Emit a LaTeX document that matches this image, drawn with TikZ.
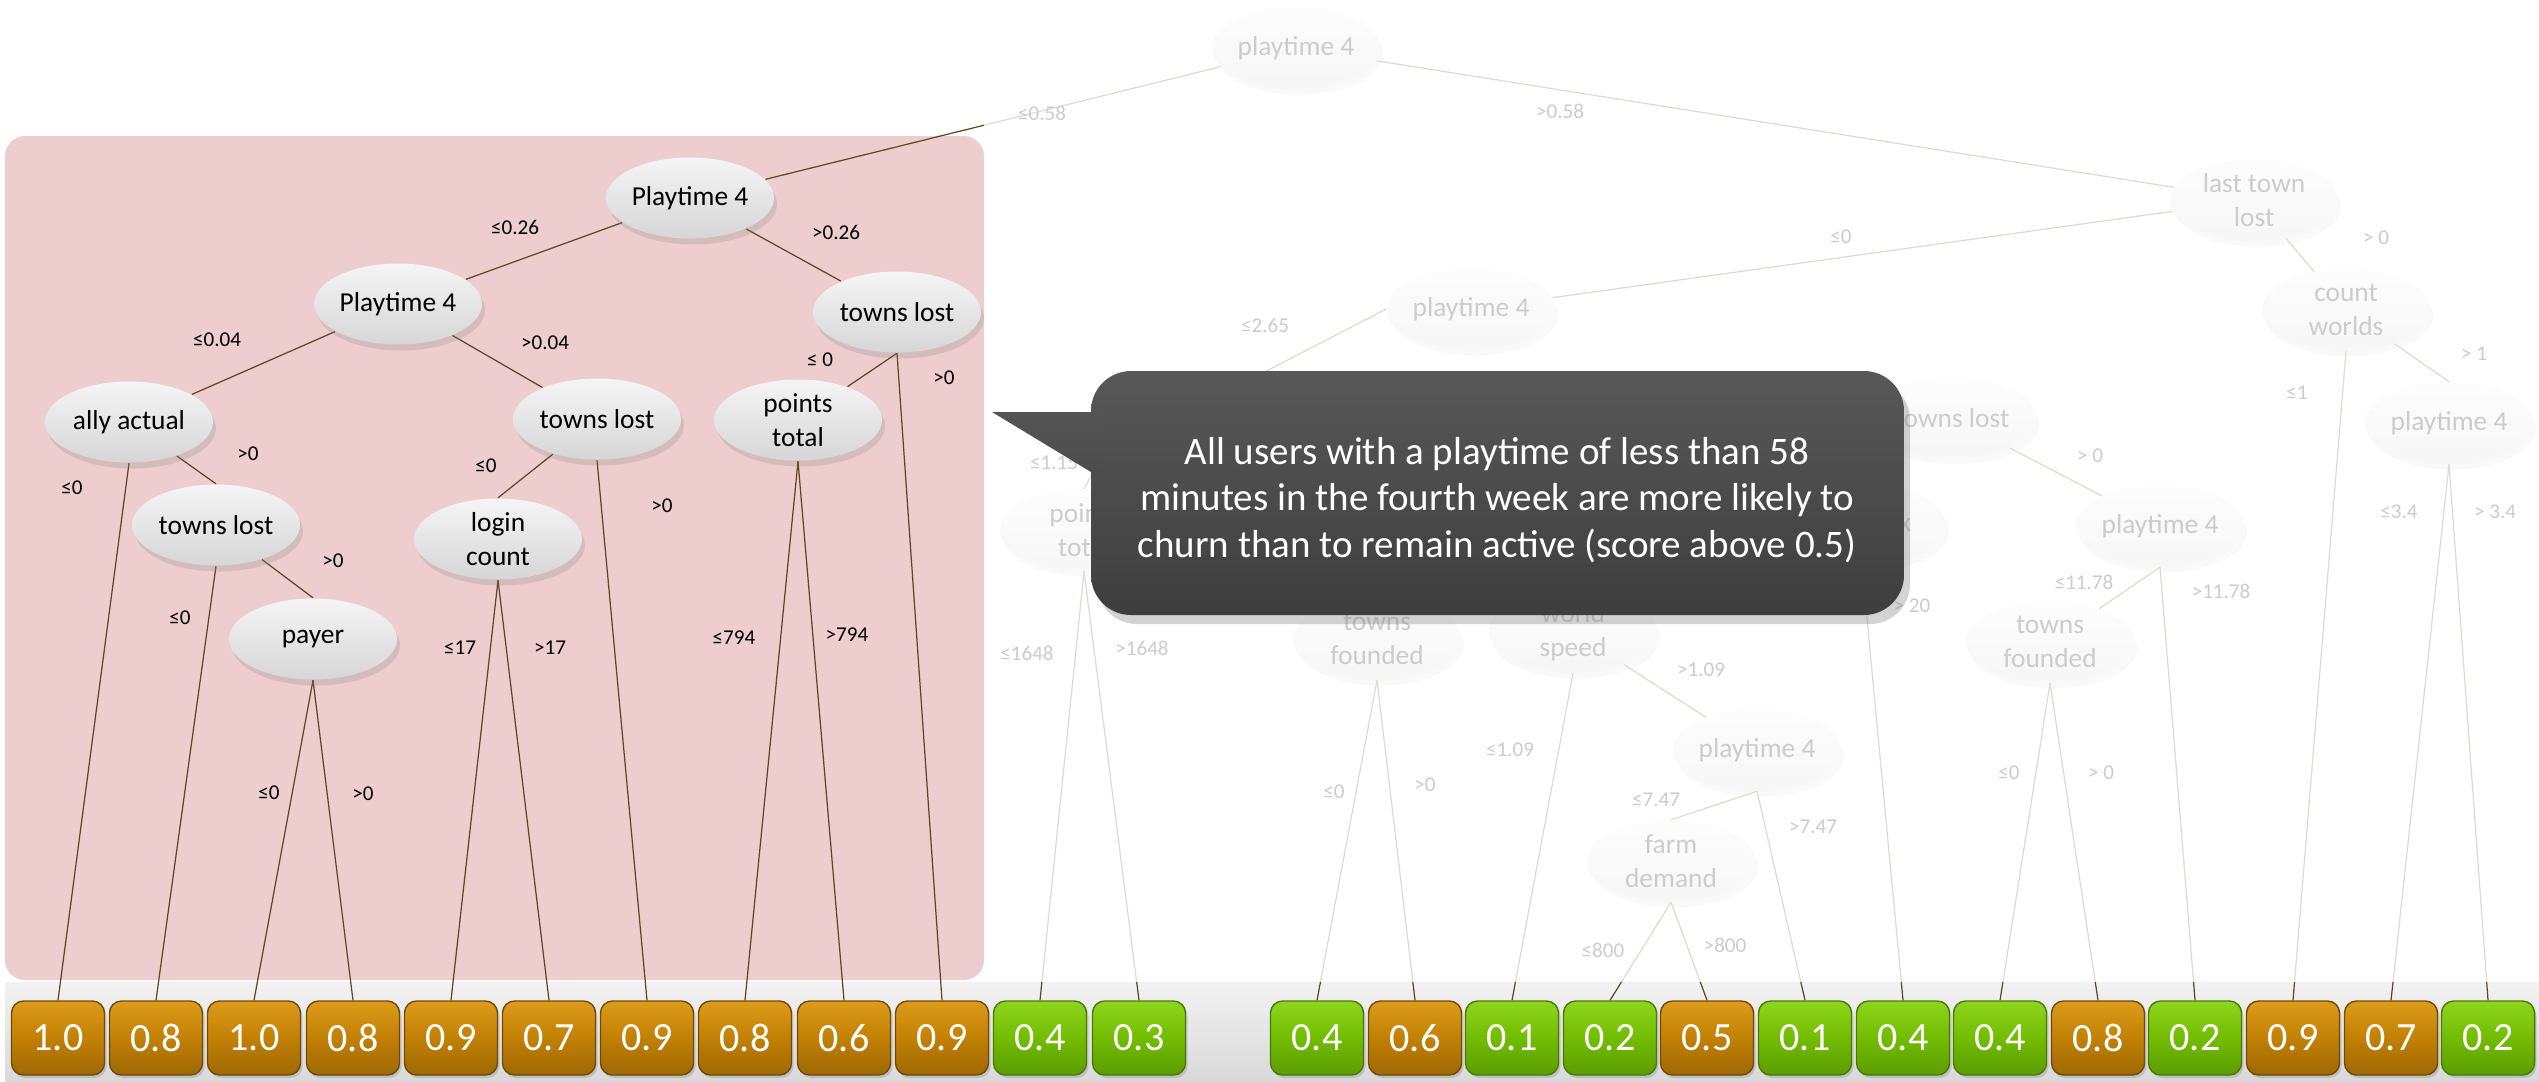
\documentclass[tikz,border=0pt]{standalone}
\usepackage{fontspec}
\setmainfont{Carlito}
\usetikzlibrary{shapes.geometric,shadows,backgrounds}

\definecolor{lnkcol}{RGB}{92,74,30}
\definecolor{pinkbg}{RGB}{237,205,205}
\definecolor{hitop}{RGB}{222,156,28}
\definecolor{himid}{RGB}{194,128,4}
\definecolor{hibot}{RGB}{158,104,4}
\definecolor{hiline}{RGB}{112,74,8}
\definecolor{lotop}{RGB}{142,214,30}
\definecolor{lomid}{RGB}{114,188,2}
\definecolor{lobot}{RGB}{92,156,2}
\definecolor{loline}{RGB}{74,122,6}
\definecolor{notetop}{RGB}{88,88,88}
\definecolor{notebot}{RGB}{62,62,62}
\definecolor{tiptop}{RGB}{84,84,84}
\definecolor{tipbot}{RGB}{77,77,77}

\begin{document}
\begin{tikzpicture}[
  x=0.1mm, y=-0.1mm,
  splt/.style={ellipse, minimum width=16.8mm, minimum height=8.1mm, inner sep=0pt,
    top color=black!4, bottom color=black!16,
    drop shadow={shadow xshift=0.3mm, shadow yshift=-0.6mm, opacity=0.22},
    font=\fontsize{7.8}{9.6}\selectfont, align=center},
  cond/.style={font=\fontsize{6}{7}\selectfont, inner sep=0pt},
  lnk/.style={draw=lnkcol, line width=0.35pt},
  lf/.style={rectangle, rounded corners=1.2mm, minimum width=9.3mm, minimum height=7.4mm,
    inner sep=0pt, text=white, font=\fontsize{11.4}{13}\selectfont,
    drop shadow={shadow xshift=0.2mm, shadow yshift=-0.3mm, opacity=0.3}},
  lfhi/.style={lf, top color=hitop, bottom color=hibot, middle color=himid, draw=hiline},
  lflo/.style={lf, top color=lotop, bottom color=lobot, middle color=lomid, draw=loline},
  bubble/.style={top color=notetop, bottom color=notebot,
    drop shadow={shadow xshift=0.6mm, shadow yshift=-0.9mm, opacity=0.35}},
  notetext/.style={text=white, align=center, font=\fontsize{11.1}{13.2}\selectfont},
]
\useasboundingbox (0,0) rectangle (2539,1081);

\begin{scope}[on background layer]
	\shade [top color=black!5, bottom color=black!15] (5,982) rectangle (2539,1081);
	\fill [pinkbg, rounded corners=2mm] (5,136) rectangle (984,980);
\end{scope}

% highlighted branch
\node [splt] (pA) at (690,198) {Playtime 4};
\node [splt] (pB) at (398,304) {Playtime 4};
\node [splt] (tlA) at (897,312) {towns lost};
\node [splt] (ally) at (129,422) {ally actual};
\node [splt] (tlB) at (597,419) {towns lost};
\node [splt] (pts) at (798,420) {points\\total};
\node [splt] (tlC) at (216,525) {towns lost};
\node [splt] (login) at (498,539) {login\\count};
\node [splt] (payer) at (313,639) {payer};

\node [cond] (c1) at (515,227) {≤0.26};
\node [cond] (c2) at (836,232) {>0.26};
\node [cond] (c3) at (217,340) {≤0.04};
\node [cond] (c4) at (545,343) {>0.04};
\node [cond] (c5) at (72,488) {≤0};
\node [cond] (c6) at (248,454) {>0};
\node [cond] (c7) at (180,618) {≤0};
\node [cond] (c8) at (333,561) {>0};
\node [cond] (c9) at (269,793) {≤0};
\node [cond] (c10) at (363,794) {>0};
\node [cond] (c11) at (486,466) {≤0};
\node [cond] (c12) at (662,506) {>0};
\node [cond] (c13) at (460,648) {≤17};
\node [cond] (c14) at (550,648) {>17};
\node [cond] (c15) at (820,360) {≤ 0};
\node [cond] (c16) at (944,378) {>0};
\node [cond] (c17) at (734,638) {≤794};
\node [cond] (c18) at (847,635) {>794};

% rest of the tree
\node [splt] (root) at (1296,48) {playtime 4};
\node [splt] (ltl) at (2254,200) {last town\\lost};
\node [splt] (cw) at (2346,310) {count\\worlds};
\node [splt] (pr) at (2449,423) {playtime 4};
\node [splt] (plE) at (1471,309) {playtime 4};
\node [splt] (ptsF) at (1084,530) {points\\total};
\node [splt] (tlF) at (1952,418) {towns lost};
\node [splt] (xF) at (1862,525) {};
\node [splt] (pm) at (2160,526) {playtime 4};
\node [splt] (tfr) at (2050,642) {towns\\founded};
\node [splt] (tfm) at (1377,639) {towns\\founded};
\node [splt] (ws) at (1573,632) {world\\speed};
\node [splt] (pws) at (1757,750) {playtime 4};
\node [splt] (fd) at (1671,861) {farm\\demand};
\node [font=\fontsize{7.8}{9.6}\selectfont, inner sep=0pt] (xT) at (1905,525) {x};
\coordinate (hid) at (1102,456);

\node [cond] (d1) at (1042,113) {≤0.58};
\node [cond] (d2) at (1560,111) {>0.58};
\node [cond] (d3) at (1841,237) {≤0};
\node [cond] (d4) at (2376,238) {> 0};
\node [cond] (d5) at (1265,325) {≤2.65};
\node [cond] (d6) at (1054,463) {≤1.15};
\node [cond] (d7) at (1027,653) {≤1648};
\node [cond] (d8) at (1142,648) {>1648};
\node [cond] (d9) at (1334,792) {≤0};
\node [cond] (d10) at (1425,785) {>0};
\node [cond] (d11) at (1510,750) {≤1.09};
\node [cond] (d12) at (1701,670) {>1.09};
\node [cond] (d13) at (1656,800) {≤7.47};
\node [cond] (d14) at (1813,827) {>7.47};
\node [cond] (d15) at (1603,950) {≤800};
\node [cond] (d16) at (1725,945) {>800};
\node [cond] (d17) at (1912,606) {> 20};
\node [cond] (d18) at (2090,456) {> 0};
\node [cond] (d19) at (2084,582) {≤11.78};
\node [cond] (d20) at (2221,591) {>11.78};
\node [cond] (d21) at (2009,773) {≤0};
\node [cond] (d22) at (2101,773) {> 0};
\node [cond] (d23) at (2297,393) {≤1};
\node [cond] (d24) at (2474,354) {> 1};
\node [cond] (d25) at (2399,512) {≤3.4};
\node [cond] (d26) at (2495,512) {> 3.4};

\fill [white, opacity=0.8] (984,0) rectangle (2539,982);

% leaves
\node [lfhi] (lf0) at (58,1038) {1.0};
\node [lfhi] (lf1) at (156,1038) {0.8};
\node [lfhi] (lf2) at (254,1038) {1.0};
\node [lfhi] (lf3) at (353,1038) {0.8};
\node [lfhi] (lf4) at (451,1038) {0.9};
\node [lfhi] (lf5) at (549,1038) {0.7};
\node [lfhi] (lf6) at (647,1038) {0.9};
\node [lfhi] (lf7) at (745,1038) {0.8};
\node [lfhi] (lf8) at (844,1038) {0.6};
\node [lfhi] (lf9) at (942,1038) {0.9};
\node [lflo] (lf10) at (1040,1038) {0.4};
\node [lflo] (lf11) at (1139,1038) {0.3};
\node [lflo] (lf12) at (1317,1038) {0.4};
\node [lfhi] (lf13) at (1415,1038) {0.6};
\node [lflo] (lf14) at (1512,1038) {0.1};
\node [lflo] (lf15) at (1610,1038) {0.2};
\node [lfhi] (lf16) at (1707,1038) {0.5};
\node [lflo] (lf17) at (1805,1038) {0.1};
\node [lflo] (lf18) at (1903,1038) {0.4};
\node [lflo] (lf19) at (2000,1038) {0.4};
\node [lfhi] (lf20) at (2098,1038) {0.8};
\node [lflo] (lf21) at (2195,1038) {0.2};
\node [lfhi] (lf22) at (2293,1038) {0.9};
\node [lfhi] (lf23) at (2391,1038) {0.7};
\node [lflo] (lf24) at (2488,1038) {0.2};

\begin{scope}[on background layer]
	\draw [lnk] (root) -- (pA);
	\draw [lnk] (root) -- (ltl);
	\draw [lnk] (pA) -- (pB);
	\draw [lnk] (pA) -- (tlA);
	\draw [lnk] (pB) -- (ally);
	\draw [lnk] (pB) -- (tlB);
	\draw [lnk] (ally) -- (tlC.north);
	\draw [lnk] (tlC) -- (payer.north);
	\draw [lnk] (tlB) -- (login.north);
	\draw [lnk] (tlA.south) -- (pts);
	\draw [lnk] (ally.south) -- (lf0.north);
	\draw [lnk] (tlC.south) -- (lf1.north);
	\draw [lnk] (payer.south) -- (lf2.north);
	\draw [lnk] (payer.south) -- (lf3.north);
	\draw [lnk] (login.south) -- (lf4.north);
	\draw [lnk] (login.south) -- (lf5.north);
	\draw [lnk] (tlB.south) -- (lf6.north);
	\draw [lnk] (pts.south) -- (lf7.north);
	\draw [lnk] (pts.south) -- (lf8.north);
	\draw [lnk] (tlA.south) -- (lf9.north);

	\draw [lnk] (ltl) -- (plE);
	\draw [lnk] (ltl) -- (cw);
	\draw [lnk] (cw) -- (pr.north);
	\draw [lnk] (cw.south) -- (lf22.north);
	\draw [lnk] (pr.south) -- (lf23.north);
	\draw [lnk] (pr.south) -- (lf24.north);
	\draw [lnk] (plE.west) -- (hid);
	\draw [lnk] (hid) -- (ptsF.north);
	\draw [lnk] (ptsF.south) -- (lf10.north);
	\draw [lnk] (ptsF.south) -- (lf11.north);
	\draw [lnk] (tfm.south) -- (lf12.north);
	\draw [lnk] (tfm.south) -- (lf13.north);
	\draw [lnk] (ws.south) -- (lf14.north);
	\draw [lnk] (ws) -- (pws);
	\draw [lnk] (pws.south) -- (fd.north);
	\draw [lnk] (pws.south) -- (lf17.north);
	\draw [lnk] (fd.south) -- (lf15.north);
	\draw [lnk] (fd.south) -- (lf16.north);
	\draw [lnk] (xF.south) -- (lf18.north);
	\draw [lnk] (tlF) -- (pm);
	\draw [lnk] (pm.south) -- (tfr);
	\draw [lnk] (pm.south) -- (lf21.north);
	\draw [lnk] (tfr.south) -- (lf19.north);
	\draw [lnk] (tfr.south) -- (lf20.north);
\end{scope}

% callout
\path [bubble, rounded corners=4mm] (1091,371) rectangle (1904,615);
\shade [top color=tiptop, bottom color=tipbot] (992,412) -- (1104,412) -- (1104,472) -- (1091,472) -- cycle;
\node [notetext] (note) at (1497,500) {All users with a playtime of less than 58\\minutes in the fourth week are more likely to\\churn than to remain active (score above 0.5)};

\end{tikzpicture}
\end{document}
